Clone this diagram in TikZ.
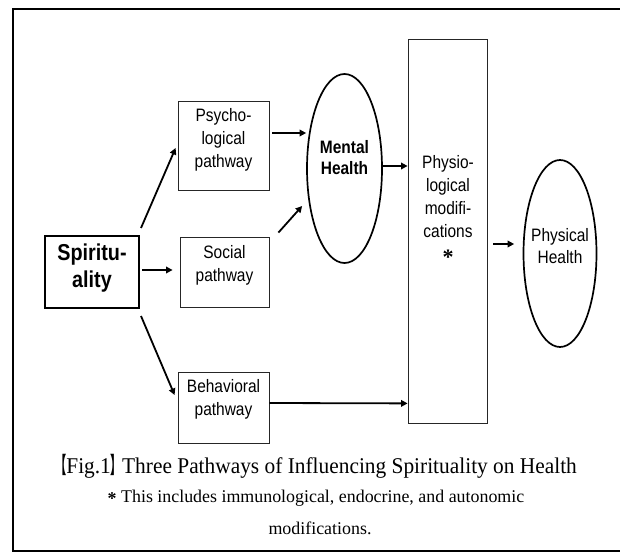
\documentclass[tikz,border=0pt]{standalone}
\usepackage{fontspec}
\setmainfont{Liberation Serif}
\newfontfamily\arialf[FakeStretch=0.86]{Liberation Sans}
\newfontfamily\capf[FakeStretch=0.95]{Liberation Serif}
\newfontfamily\capg{Liberation Serif}
\newfontfamily\cjkn[FakeStretch=0.5]{Noto Sans CJK SC}
\usetikzlibrary{arrows.meta,calc,shapes.geometric}
\tikzset{
  pbox/.style={draw=black!85, line width=0.8pt, inner sep=0pt},
  sbox/.style={draw=black, line width=2pt, inner sep=0pt},
  oval/.style={draw=black, ellipse, line width=1.7pt, inner sep=0pt},
  ptext/.style={align=center, font=\arialf\fontsize{18}{23}\selectfont, inner sep=0pt},
  btext/.style={align=center, font=\arialf\bfseries\fontsize{18}{21}\selectfont, inner sep=0pt},
  stext/.style={align=center, font=\arialf\bfseries\fontsize{23}{27}\selectfont, inner sep=0pt},
  arr/.style={line width=1.8pt, -{Triangle[length=6.5pt,width=6.5pt]}},
  captext/.style={inner sep=0pt, anchor=base}
}
\newcommand{\heavyast}{\raisebox{-0.3ex}{\capg\bfseries *}}
\begin{document}
\begin{tikzpicture}[x=1pt,y=-1pt]
\useasboundingbox (0,0) rectangle (620,553);
\draw[line width=1.5pt] (622,9) -- (13,9) -- (13,551) -- (622,551);

% shapes
\node[sbox, minimum width=94pt, minimum height=72pt] (spir) at (92,272) {};
\node[stext] (spirt) at (92,268.5) {Spiritu-\\ality};

\node[pbox, minimum width=91pt, minimum height=89pt] (psych) at (223.5,145.5) {};
\node[ptext] (psycht) at (223.5,140) {Psycho-\\logical\\pathway};

\node[pbox, minimum width=89pt, minimum height=70pt] (social) at (224.5,272) {};
\node[ptext] (socialt) at (224.5,265) {Social\\pathway};

\node[pbox, minimum width=91pt, minimum height=71pt] (behav) at (223.5,407.5) {};
\node[ptext] (behavt) at (223.5,399.5) {Behavioral\\pathway};

\node[oval, minimum width=75pt, minimum height=189pt] (mental) at (344.5,168.5) {};
\node[btext] (mentalt) at (344.5,157.5) {Mental\\Health};

\node[pbox, minimum width=79.5pt, minimum height=384pt] (physio) at (447.75,231) {};
\node[ptext] (physiot) at (448,210) {Physio-\\logical\\modifi-\\cations\\{\fontsize{22}{23}\selectfont\heavyast}};

\node[oval, minimum width=73pt, minimum height=187pt] (physical) at (560,253.5) {};
\node[ptext, font=\arialf\fontsize{18}{22}\selectfont] (physicalt) at (560,246) {Physical\\Health};

% connectors
\draw[arr] ($(spir.north east)+(1,-7)$) -- ($(psych.west)+(-2,2.5)$);
\draw[arr] ($(spir.east)+(2,-2)$) -- ($(social.west)+(-7,-2)$);
\draw[arr] ($(spir.south east)+(1,7)$) -- ($(behav.west)+(-3,-12.5)$);
\draw[arr] ($(psych.east)+(3,-12.5)$) -- ($(mental.west)+(0,-35.5)$);
\draw[arr] ($(social.north east)+(9,-4)$) -- ($(mental.west)+(-4,37.5)$);
\draw[arr] ($(behav.east)+(0,-4.5)$) -- ($(physio.south west)+(0,-20)$);
\draw[arr] ($(mental.east)+(0,-2.5)$) -- ($(physio.west)+(0,-65)$);
\draw[arr] ($(physio.east)+(5.5,13)$) -- ($(physical.west)+(-8.5,-9.5)$);

% caption
\node[captext, font=\capf\fontsize{22.5}{24}\selectfont] (cap1) at (316,473) {{\cjkn\bfseries【}Fig.1{\cjkn\bfseries】}Three Pathways of Influencing Spirituality on Health};
\node[captext, font=\capg\fontsize{17.9}{22}\selectfont] (cap2) at (316,502) {\heavyast\ This includes immunological, endocrine, and autonomic};
\node[captext, font=\capg\fontsize{17.9}{22}\selectfont] (cap3) at (320,534) {modifications.};
\end{tikzpicture}
\end{document}
